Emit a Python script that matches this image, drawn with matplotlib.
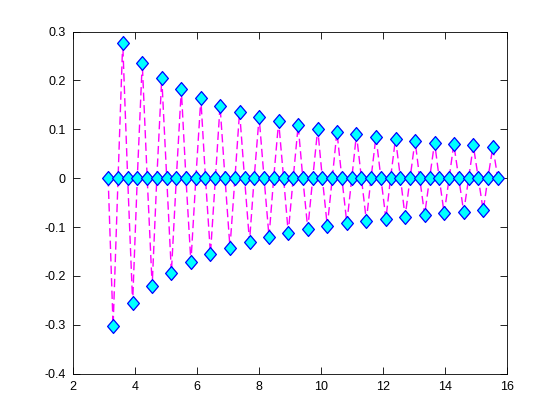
import matplotlib
matplotlib.use('Agg')
import matplotlib.pyplot as plt
from matplotlib.path import Path

# sample positions (pi .. 5*pi, step pi/20)
x = [3.14, 3.30, 3.46, 3.61, 3.77, 3.93, 4.08, 4.24, 4.40, 4.56,
     4.71, 4.87, 5.03, 5.18, 5.34, 5.50, 5.65, 5.81, 5.97, 6.13,
     6.28, 6.44, 6.60, 6.75, 6.91, 7.07, 7.23, 7.38, 7.54, 7.70,
     7.85, 8.01, 8.17, 8.33, 8.48, 8.64, 8.80, 8.95, 9.11, 9.27,
     9.42, 9.58, 9.74, 9.90, 10.05, 10.21, 10.37, 10.52, 10.68, 10.84,
     11.00, 11.15, 11.31, 11.47, 11.62, 11.78, 11.94, 12.10, 12.25, 12.41,
     12.57, 12.72, 12.88, 13.04, 13.19, 13.35, 13.51, 13.67, 13.82, 13.98,
     14.14, 14.29, 14.45, 14.61, 14.77, 14.92, 15.08, 15.24, 15.39, 15.55,
     15.71]

y = [0, -0.303, 0, 0.277, 0, -0.255, 0, 0.236, 0, -0.220,
     0, 0.205, 0, -0.193, 0, 0.182, 0, -0.172, 0, 0.163,
     0, -0.155, 0, 0.148, 0, -0.142, 0, 0.136, 0, -0.130,
     0, 0.125, 0, -0.120, 0, 0.116, 0, -0.112, 0, 0.108,
     0, -0.104, 0, 0.101, 0, -0.098, 0, 0.095, 0, -0.092,
     0, 0.090, 0, -0.087, 0, 0.085, 0, -0.083, 0, 0.081,
     0, -0.079, 0, 0.077, 0, -0.075, 0, 0.073, 0, -0.072,
     0, 0.070, 0, -0.069, 0, 0.067, 0, -0.066, 0, 0.064,
     0]

xticks = [2, 4, 6, 8, 10, 12, 14, 16]
yticks = [-0.4, -0.3, -0.2, -0.1, 0, 0.1, 0.2, 0.3]
ytick_labels = ['-0.4', '-0.3', '-0.2', '-0.1', '0', '0.1', '0.2', '0.3']

plt.rcParams['font.family'] = ['Liberation Sans', 'DejaVu Sans']

# slightly tall diamond, like matlab's 'd'
diamond = Path([(0, 1), (0.85, 0), (0, -1), (-0.85, 0), (0, 1)],
               [Path.MOVETO, Path.LINETO, Path.LINETO, Path.LINETO, Path.CLOSEPOLY])

fig = plt.figure(figsize=(5.6, 4.2), dpi=100)
ax = fig.add_axes([0.13, 0.11, 0.775, 0.815])

ax.plot(x, y, linestyle=(0, (6, 3)), color='#ff00ff', linewidth=1,
        marker=diamond, markersize=10, markerfacecolor='#00ffff',
        markeredgecolor='#0000ff', markeredgewidth=0.9)

ax.set_xlim(2, 16)
ax.set_ylim(-0.4, 0.3)
ax.set_xticks(xticks)
ax.set_yticks(yticks)
ax.set_yticklabels(ytick_labels)
ax.tick_params(direction='in', top=True, right=True, length=5,
               labelsize=9, width=0.6, pad=5)
for s in ax.spines.values():
    s.set_linewidth(0.6)

fig.savefig('out.png', dpi=100)
